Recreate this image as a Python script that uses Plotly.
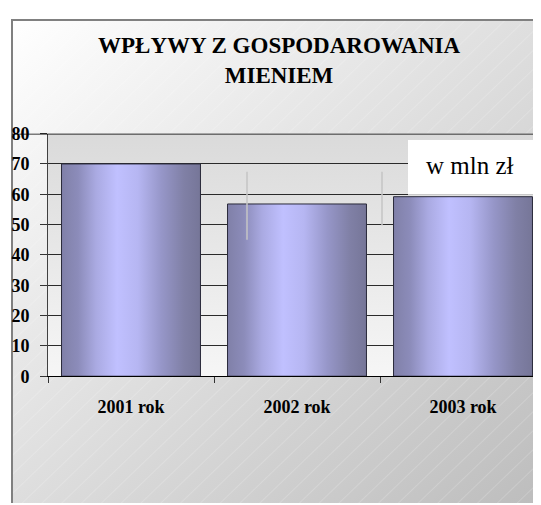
import base64
import plotly.graph_objects as go

# ---- data ----
categories = ["2001 rok", "2002 rok", "2003 rok"]
values = [70.0, 56.8, 59.2]
y_ticks = [0, 10, 20, 30, 40, 50, 60, 70, 80]
title_text = "WPŁYWY Z GOSPODAROWANIA<br>MIENIEM"
unit_text = "w mln zł"

W, H = 541, 505
OFF = 8  # page body margin compensation
BAR_W = 0.837
CAT_PX = 166.0
SERIF = "Liberation Serif, Times New Roman, serif"


def px(X):
    return (X - OFF) / W


def py(Y):
    return 1 - (Y - OFF) / H


bar_scale = [
    [0.0, "rgb(128,128,168)"], [0.12, "rgb(140,140,186)"], [0.25, "rgb(170,170,226)"],
    [0.4, "rgb(192,192,255)"], [0.55, "rgb(182,182,242)"], [0.72, "rgb(150,150,200)"],
    [0.88, "rgb(128,128,166)"], [1.0, "rgb(118,118,152)"],
]

svg = f'''<svg xmlns="http://www.w3.org/2000/svg" width="{W}" height="{H}" viewBox="0 0 {W} {H}">
<defs>
<linearGradient id="g" x1="0" y1="0" x2="1" y2="1">
<stop offset="0" stop-color="#ffffff"/><stop offset="1" stop-color="#bcbcbc"/></linearGradient>
<linearGradient id="w" x1="0" y1="0" x2="0" y2="1">
<stop offset="0" stop-color="#dadada"/><stop offset="1" stop-color="#f6f6f6"/></linearGradient>
<pattern id="h" width="14" height="14" patternUnits="userSpaceOnUse" patternTransform="rotate(45)">
<line x1="0" y1="0" x2="0" y2="14" stroke="#ffffff" stroke-opacity="0.35" stroke-width="1"/></pattern>
</defs>
<rect width="{W}" height="{H}" fill="#ffffff"/>
<g transform="translate(-{OFF},-{OFF})">
<rect x="12" y="10" width="540" height="505" fill="url(#g)"/>
<rect x="12" y="10" width="540" height="505" fill="url(#h)"/>
<rect x="48" y="128" width="505" height="253" fill="url(#w)"/>
<path d="M12 530 V10 H560" fill="none" stroke="#808080" stroke-width="2"/>
</g>
</svg>'''
uri = "data:image/svg+xml;base64," + base64.b64encode(svg.encode()).decode()

fig = go.Figure()
for i, v in enumerate(values):
    hw = BAR_W / 2
    fig.add_trace(go.Scatter(
        x=[i - hw, i + hw, i + hw, i - hw, i - hw],
        y=[0, 0, v, v, 0],
        mode="lines", fill="toself",
        fillgradient=dict(type="horizontal", colorscale=bar_scale),
        line=dict(color="#2a2a3a", width=1),
        hoverinfo="skip", showlegend=False,
    ))

x_left = px(48)
xr = [-0.5, -0.5 + (W - (48 - OFF)) / CAT_PX]

fig.update_layout(
    width=W, height=H,
    margin=dict(l=0, r=0, t=0, b=0),
    paper_bgcolor="white",
    plot_bgcolor="rgba(0,0,0,0)",
    images=[dict(source=uri, xref="paper", yref="paper", x=0, y=1, sizex=1, sizey=1,
                 sizing="stretch", layer="below", xanchor="left", yanchor="top")],
    xaxis=dict(
        domain=[x_left, 1], range=xr, showgrid=False, zeroline=False,
        tickvals=list(range(len(categories))), ticktext=categories,
        ticks="", ticklen=0,
        tickfont=dict(family=SERIF, size=18, color="black", weight="bold"),
        ticklabelstandoff=14,
        showline=True, linecolor="#000000", linewidth=1,
        minor=dict(tickvals=[-0.5, 0.5, 1.5, 2.5], ticks="outside", ticklen=6,
                   tickcolor="#333333", showgrid=False),
    ),
    yaxis=dict(
        domain=[py(381), py(128.4)], range=[0, 80], tickvals=y_ticks,
        showgrid=True, gridcolor="#2a2a2a", gridwidth=1, zeroline=False,
        ticks="outside", ticklen=7, tickcolor="#333333",
        tickfont=dict(family=SERIF, size=18, color="black", weight="bold"),
        ticklabelstandoff=7,
        showline=True, linecolor="#404040", linewidth=1,
    ),
    annotations=[
        dict(text=title_text, xref="paper", yref="paper", x=px(279), y=py(52),
             xanchor="center", yanchor="middle", showarrow=False,
             font=dict(family=SERIF, size=23, color="black", weight="bold")),
        dict(text=unit_text, xref="paper", yref="paper", x=px(470), y=py(162),
             xanchor="center", yanchor="middle", showarrow=False,
             font=dict(family=SERIF, size=25, color="black")),
    ],
    shapes=[
        dict(type="line", xref="paper", yref="y", x0=px(12), x1=1, y0=80, y1=80,
             line=dict(color="#000000", width=1.5), layer="above"),
        dict(type="rect", xref="paper", yref="paper", x0=px(408), x1=1.01,
             y0=py(192), y1=py(135), fillcolor="white", line=dict(width=0),
             layer="above"),
        dict(type="line", xref="paper", yref="paper", x0=px(247), x1=px(247),
             y0=py(239), y1=py(168), line=dict(color="#c4c4c4", width=1.5),
             layer="above"),
        dict(type="line", xref="paper", yref="paper", x0=px(382), x1=px(382),
             y0=py(224), y1=py(168), line=dict(color="#c4c4c4", width=1.5),
             layer="above"),
    ],
)

fig.write_html("out.html")
